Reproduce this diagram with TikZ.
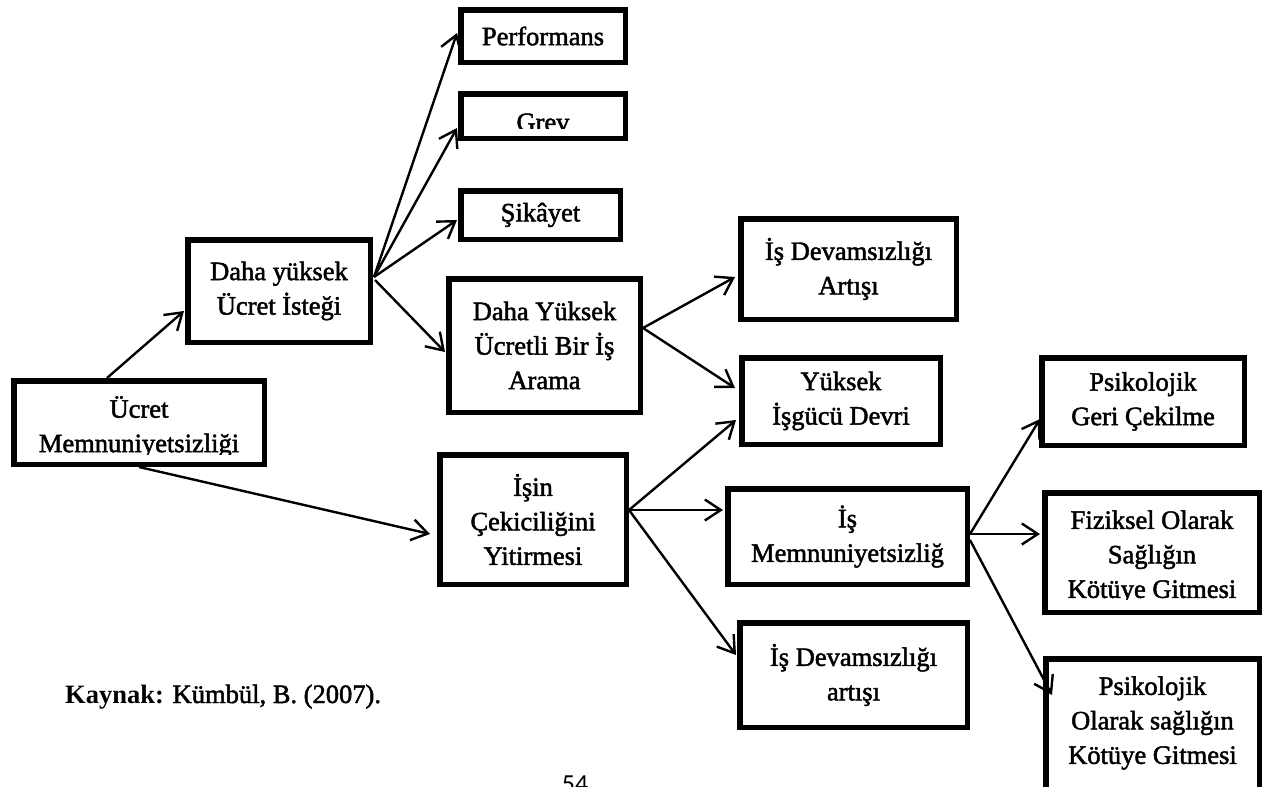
\documentclass[tikz,border=0pt]{standalone}
\usepackage{fontspec}
\setmainfont{Liberation Serif}
\newfontfamily\boxfont{Liberation Serif}[FakeBold=1.8]
\newfontfamily\pagefont{Carlito}
\usetikzlibrary{arrows.meta,calc}
\begin{document}
\begin{tikzpicture}[x=1pt,y=-1pt,
  box/.style={draw, line width=5.5pt, inner sep=0pt, align=center, font=\boxfont\fontsize{26.5}{34.5}\selectfont},
  txt/.style={inner sep=0pt, align=center, font=\boxfont\fontsize{26.5}{34.5}\selectfont},
  arr/.style={line width=2.4pt, -{Straight Barb[length=16pt,width=21pt,line width=2.4pt]}}]
\useasboundingbox (0,0) rectangle (1277,787);
\clip (0,0) rectangle (1277,787);

% boxes
\node[box,minimum width=164.5pt,minimum height=52.5pt] (perf) at (543,36) {Performans};
\node[box,minimum width=164.5pt,minimum height=44.5pt] (grev) at (543,116) {};
\node[box,minimum width=159.5pt,minimum height=48.5pt] (sik) at (540.5,215) {Şikâyet};
\node[box,minimum width=182.5pt,minimum height=102.5pt] (daha1) at (279,291) {Daha yüksek\\Ücret İsteği};
\node[box,minimum width=191.5pt,minimum height=133.5pt] (dahaY) at (544.5,345.5) {Daha Yüksek\\Ücretli Bir İş\\Arama};
\node[box,minimum width=186.5pt,minimum height=129.5pt] (isin) at (533,519.5) {İşin\\Çekiciliğini\\Yitirmesi};
\node[box,minimum width=250.5pt,minimum height=83.5pt] (ucret) at (139,422.5) {};
\node[box,minimum width=215.5pt,minimum height=100.5pt] (devA) at (848.5,269) {İş Devamsızlığı\\Artışı};
\node[box,minimum width=198.5pt,minimum height=86.5pt] (yuk) at (841,401) {Yüksek\\İşgücü Devri};
\node[box,minimum width=239.5pt,minimum height=95.5pt] (memn) at (847.5,536.5) {İş\\Memnuniyetsizliğ};
\node[box,minimum width=227.5pt,minimum height=104.5pt] (devB) at (853.5,675) {İş Devamsızlığı\\artışı};
\node[box,minimum width=202.5pt,minimum height=87.5pt] (psikG) at (1143,401.5) {Psikolojik\\Geri Çekilme};
\node[box,minimum width=214.5pt,minimum height=119.5pt] (fiz) at (1152,552.5) {};
\node[box,minimum width=213.5pt,minimum height=142.5pt] (psikO) at (1152.5,730) {};

% texts (some clipped as in the source)
\begin{scope}
  \clip (11,378) rectangle (267,454);
  \node[txt] (ucrett) at (139,427) {Ücret\\Memnuniyetsizliği};
\end{scope}
\begin{scope}
  \clip (458,91) rectangle (628,128);
  \node[txt,anchor=base] (grevt) at (543,131) {Grev};
\end{scope}
\begin{scope}
  \clip (1042,490) rectangle (1262,599);
  \node[txt] (fizt) at (1152,557) {Fiziksel Olarak\\Sağlığın\\Kötüye Gitmesi};
\end{scope}
\node[txt] (psikOt) at (1152.5,723) {Psikolojik\\Olarak sağlığın\\Kötüye Gitmesi};

% connectors
\draw[arr] ($(ucret.north)+(-32,0)$) -- ($(daha1.west)+(-1,20)$);
\draw[arr] (ucret.south) -- ($(isin.west)+(-7,14.5)$);
\draw[arr] ($(daha1.east)+(1,-14)$) -- ($(perf.west)+(-1,-3)$);
\draw[arr] ($(daha1.east)+(1,-14)$) -- ($(grev.west)+(-1,12)$);
\draw[arr] ($(daha1.east)+(1,-14)$) -- ($(sik.west)+(-1,5)$);
\draw[arr] ($(daha1.east)+(2,-11)$) -- ($(dahaY.west)+(-1,6.5)$);
\draw[arr] ($(dahaY.east)+(0,-17.5)$) -- ($(devA.west)+(-3,8)$);
\draw[arr] ($(dahaY.east)+(0,-17.5)$) -- ($(yuk.west)+(-4,-13)$);
\draw[arr] ($(isin.east)+(0,-9.5)$) -- ($(yuk.west)+(-3,19)$);
\draw[arr] ($(isin.east)+(0,-9.5)$) -- ($(memn.west)+(-2,-26.5)$);
\draw[arr] ($(isin.east)+(0,-9.5)$) -- ($(devB.west)+(-1,-20)$);
\draw[arr] ($(memn.east)+(0,-2.5)$) -- ($(psikG.west)+(1,17.5)$);
\draw[arr] ($(memn.east)+(0,-2.5)$) -- ($(fiz.west)+(-2,-18.5)$);
\draw[arr] ($(memn.east)+(0,3.5)$) -- ($(psikO.west)+(9,-35)$);

% source and page number
\node[anchor=base west, inner sep=0pt, font=\fontsize{26.5}{34.5}\selectfont] (kaynak) at (65,703) {\textbf{Kaynak:} {\boxfont Kümbül, B. (2007).}};
\node[anchor=base, inner sep=0pt, font=\pagefont\fontsize{26}{30}\selectfont] (page) at (575,792) {54};
\end{tikzpicture}
\end{document}
